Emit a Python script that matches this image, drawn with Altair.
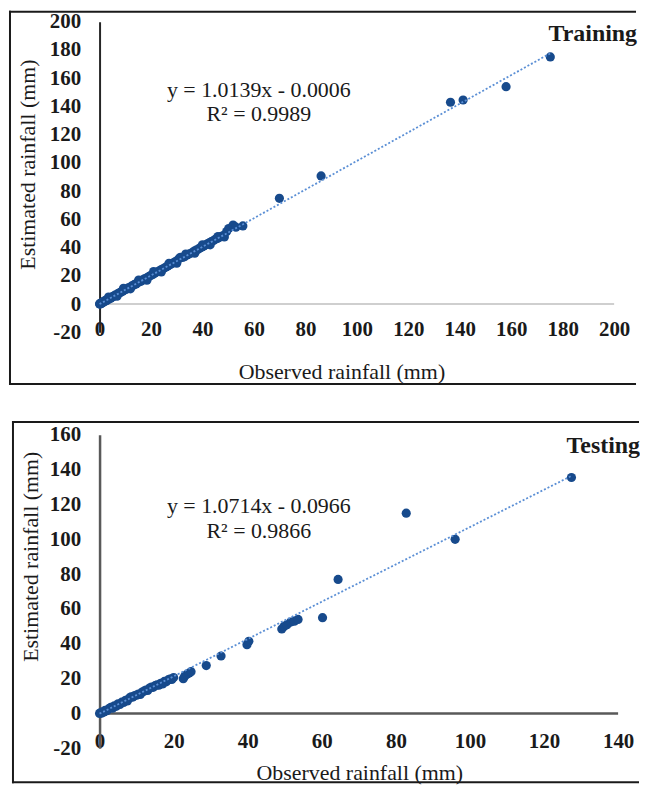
import altair as alt
import pandas as pd

FONT = "Liberation Serif"

# ---------------- data ----------------
train_obs = [0.0, 0.1, 0.3, 0.5, 0.8, 1.0, 1.2, 1.5, 1.8, 2.0, 2.3, 2.6, 3.0, 3.3, 3.7, 4.0, 4.4, 4.8,
             5.2, 5.6, 6.0, 6.5, 7.0, 7.4, 8.0, 8.5, 9.0, 9.6, 10.0, 10.6, 11.2, 11.8, 12.4, 13.0, 13.6,
             14.2, 14.8, 15.5, 16.1, 16.8, 17.4, 18.0, 18.7, 19.3, 20.0, 20.7, 21.4, 22.0, 22.8, 23.5,
             24.2, 25.0, 25.8, 26.5, 27.3, 28.0, 28.8, 29.5, 30.3, 31.0, 31.5, 32.2, 33.0, 34.0, 35.0,
             36.0, 36.8, 37.5, 38.3, 39.0, 39.8, 40.5, 41.3, 42.0, 42.8, 43.5, 44.3, 45.0, 45.8, 46.5,
             47.2, 48.0, 49.4, 50.2, 51.9, 53.0, 55.7, 69.9, 86.1, 136.4, 141.3, 158.0, 175.2,
             3.5, 6.8, 9.3, 12.0, 15.2, 18.4, 21.0, 24.0, 27.0, 30.0, 33.5, 37.0, 40.0, 43.0, 46.0, 48.5]
train_est = [0.0, 0.3, 0.1, 0.7, 0.6, 1.2, 0.9, 1.6, 2.1, 1.8, 2.6, 2.4, 3.2, 3.0, 3.9, 4.3, 4.1, 5.0,
             5.4, 5.5, 6.3, 6.4, 7.2, 7.6, 8.1, 8.9, 9.0, 9.9, 10.3, 10.7, 11.5, 11.9, 12.7, 13.2, 13.9,
             14.3, 15.1, 15.8, 16.2, 17.1, 17.8, 18.2, 19.0, 19.7, 20.4, 20.9, 21.8, 22.5, 23.1, 23.9,
             24.6, 25.3, 26.2, 26.9, 27.8, 28.5, 29.3, 30.1, 31.0, 32.5, 33.2, 33.0, 33.6, 34.8, 35.6,
             36.5, 37.6, 38.2, 38.9, 39.8, 40.5, 41.2, 42.0, 42.8, 43.5, 44.3, 45.0, 45.9, 46.5, 47.2,
             47.9, 48.6, 51.4, 53.5, 56.0, 54.5, 55.4, 74.9, 90.8, 143.0, 144.6, 154.0, 175.1,
             5.0, 5.6, 11.2, 10.8, 17.0, 16.9, 23.0, 22.8, 28.9, 29.0, 35.4, 36.0, 42.0, 42.0, 47.8, 47.5]

test_obs = [0.0, 0.2, 0.5, 0.8, 1.2, 1.5, 2.0, 2.5, 3.0, 3.5, 4.0, 4.5, 5.0, 5.5, 6.0, 6.5, 7.0, 7.5,
            8.0, 8.5, 9.0, 9.5, 10.0, 10.5, 11.0, 11.5, 12.0, 12.5, 13.0, 13.5, 14.0, 14.5, 15.0, 15.5,
            16.0, 16.5, 17.0, 17.5, 18.0, 18.5, 19.0, 19.5, 20.0, 22.6, 23.0, 23.6, 24.2, 24.7, 28.8,
            32.8, 39.8, 40.3, 49.2, 49.8, 50.6, 51.6, 52.6, 53.6, 60.2, 64.4, 82.8, 96.0, 127.4]
test_est = [0.0, 0.4, 0.2, 1.0, 0.8, 1.8, 1.6, 2.8, 3.5, 3.0, 4.4, 4.1, 5.6, 5.2, 6.5, 6.3, 7.6, 7.2,
            8.8, 9.6, 9.4, 10.3, 10.5, 11.2, 10.9, 12.3, 12.8, 13.5, 13.2, 14.6, 15.2, 15.0, 16.0, 16.4,
            16.2, 17.3, 17.0, 18.4, 18.2, 19.3, 19.8, 19.5, 20.6, 20.0, 21.5, 22.5, 23.2, 24.0, 27.5,
            33.0, 39.5, 41.5, 48.5, 50.0, 51.0, 52.5, 53.0, 54.0, 55.0, 77.0, 115.0, 100.0, 135.5]

train_slope, train_intercept = 1.0139, -0.0006
test_slope, test_intercept = 1.0714, -0.0966
train_eq = ["y = 1.0139x - 0.0006", "R\u00b2 = 0.9989"]
test_eq = ["y = 1.0714x - 0.0966", "R\u00b2 = 0.9866"]
train_label = "Training"
test_label = "Testing"

train_xticks = [0, 20, 40, 60, 80, 100, 120, 140, 160, 180, 200]
train_yticks = [-20, 0, 20, 40, 60, 80, 100, 120, 140, 160, 180, 200]
test_xticks = [0, 20, 40, 60, 80, 100, 120, 140]
test_yticks = [-20, 0, 20, 40, 60, 80, 100, 120, 140, 160]

x_title = "Observed rainfall (mm)"
y_title = "Estimated rainfall (mm)"


def panel(obs, est, slope, icpt, eq, label, xdom, ydom, xt, yt, W, H, g):
    xs = alt.Scale(domain=xdom, nice=False, zero=False)
    ys = alt.Scale(domain=ydom, nice=False, zero=False)
    xax = alt.Axis(values=xt, title=x_title, grid=False, domain=False, ticks=False, tickSize=0,
                   labelFont=FONT, labelFontSize=21, labelFontWeight="bold", labelColor="#1a1a1a",
                   labelBaseline="middle", labelPadding=g["xlp"], labelFlush=False, labelOverlap=False,
                   titleFont=FONT, titleFontSize=22, titleFontWeight="normal", titleColor="#1a1a1a",
                   titleX=g["xtx"], titleY=g["xty"], titleBaseline="middle", titleAlign="center")
    yax = alt.Axis(values=yt, title=y_title, grid=False, domain=True, domainColor=g["ycol"],
                   domainWidth=g["yw"], ticks=False, tickSize=0,
                   labelExpr="datum.value < 0 ? '-' + (-datum.value) : datum.label",
                   labelFont=FONT, labelFontSize=21, labelFontWeight="bold", labelColor="#1a1a1a",
                   labelPadding=19, labelFlush=False, labelOverlap=False,
                   titleFont=FONT, titleFontSize=22, titleFontWeight="normal", titleColor="#1a1a1a",
                   titleX=g["ytx"], titleY=g["yty"], titleAngle=270, titleBaseline="middle",
                   titleAlign="center")

    def enc(ch):
        return ch.encode(x=alt.X("obs:Q", scale=xs, axis=xax), y=alt.Y("est:Q", scale=ys, axis=yax))

    points = enc(alt.Chart(pd.DataFrame({"obs": obs, "est": est})).mark_circle(
        size=85, color="#174a8c", opacity=1))
    axis_line = enc(alt.Chart(pd.DataFrame({"obs": xdom, "est": [0, 0]})).mark_line(
        color=g["xcol"], strokeWidth=g["xw"]))
    trend = enc(alt.Chart(pd.DataFrame({"obs": [min(obs), max(obs)]})).transform_calculate(
        est=f"{slope} * datum.obs + ({icpt})").mark_line(
        color="#5b8fd5", strokeDash=[2, 2], strokeWidth=1.8))

    def txt(s, x, y, size, weight, align):
        return alt.Chart(pd.DataFrame({"t": [s]})).mark_text(
            font=FONT, fontSize=size, fontWeight=weight, color="#1a1a1a", align=align,
            baseline="alphabetic").encode(x=alt.value(x), y=alt.value(y), text="t:N")

    t1 = txt(eq[0], g["eqx"], g["eq1y"], 22, "normal", "center")
    t2 = txt(eq[1], g["eqx"], g["eq2y"], 22, "normal", "center")
    t3 = txt(label, g["lx"], g["ly"], 24, "bold", "right")

    one = pd.DataFrame({"b": [0]})
    frame = dict(color="#1a1a1a", strokeWidth=2, strokeCap="square")
    top_edge = alt.Chart(one).mark_rule(**frame).encode(
        x=alt.value(g["bx"]), x2=alt.value(g["bx2"]), y=alt.value(g["by"]))
    left_edge = alt.Chart(one).mark_rule(**frame).encode(
        x=alt.value(g["bx"]), y=alt.value(g["by"]), y2=alt.value(g["by2"]))
    bottom_edge = alt.Chart(one).mark_rule(**frame).encode(
        x=alt.value(g["bx"]), x2=alt.value(g["bx2"]), y=alt.value(g["by2"]))

    return alt.layer(top_edge, left_edge, bottom_edge, axis_line, points, trend,
                     t1, t2, t3).properties(width=W, height=H)


top = panel(train_obs, train_est, train_slope, train_intercept, train_eq, train_label,
            [0, 200], [-20, 200], train_xticks, train_yticks, 517, 312,
            dict(xlp=-3, xtx=243, xty=39, ytx=-72, yty=143, ycol="#262626", yw=2,
                 xcol="#bfbfbf", xw=1.5, eqx=160, eq1y=76, eq2y=100, lx=540, ly=19,
                 bx=-90, bx2=538, by=-10, by2=364))

bottom = panel(test_obs, test_est, test_slope, test_intercept, test_eq, test_label,
               [0, 140], [-20, 160], test_xticks, test_yticks, 521, 315,
               dict(xlp=-7, xtx=261, xty=24, ytx=-69, yty=122, ycol="#595959", yw=2.5,
                    xcol="#595959", xw=2.5, eqx=160, eq1y=79, eq2y=104, lx=543, ly=18,
                    bx=-87, bx2=541, by=-13, by2=349))

chart = alt.vconcat(top, bottom, spacing=34).properties(
    padding=0, background="white"
).configure_view(stroke=None)

chart.save("out.html", embed_options={"renderer": "svg", "actions": False})
